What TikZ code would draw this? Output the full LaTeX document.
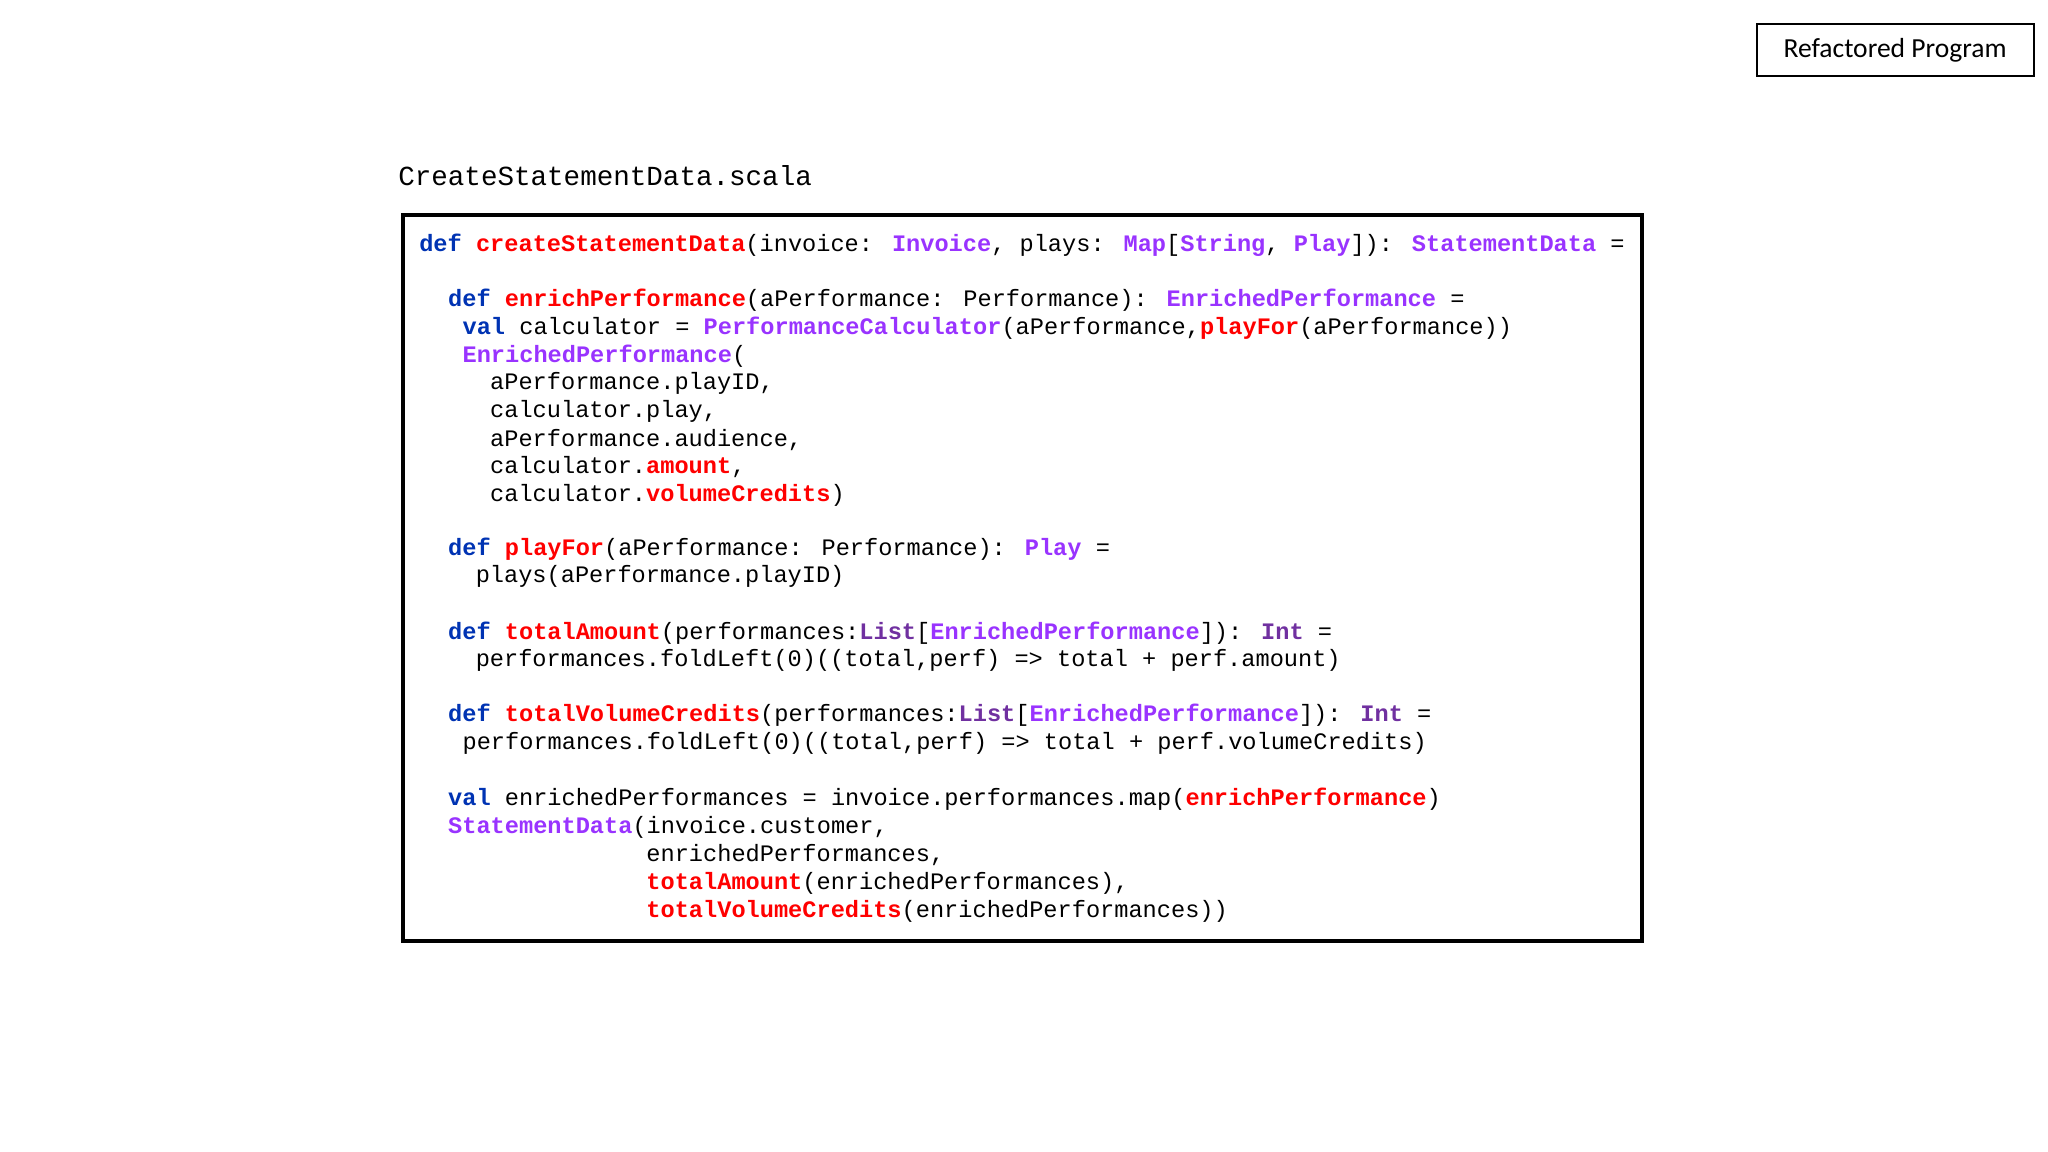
\documentclass[tikz,border=0pt]{standalone}
\usepackage{fontspec}
\setmainfont{Carlito}
\newfontfamily\codefont{Liberation Mono}
\definecolor{kwc}{HTML}{0033B3}
\definecolor{fnc}{HTML}{FF0000}
\definecolor{tyc}{HTML}{9933FF}
\definecolor{tydc}{HTML}{7030A0}
\newcommand{\kw}[1]{\textcolor{kwc}{\bfseries #1}}
\newcommand{\fn}[1]{\textcolor{fnc}{\bfseries #1}}
\newcommand{\ty}[1]{\textcolor{tyc}{\bfseries #1}}
\newcommand{\tyd}[1]{\textcolor{tydc}{\bfseries #1}}
\begin{document}
\begin{tikzpicture}[x=0.5pt,y=-0.5pt,
  code/.style={anchor=west,inner sep=0pt,font=\codefont\fontsize{9pt}{10pt}\selectfont},
  title/.style={anchor=west,inner sep=0pt,font=\codefont\fontsize{10.5pt}{12pt}\selectfont}]
\useasboundingbox (0,0) rectangle (1560,877.5);
\node[draw,line width=0.8pt,minimum width=211*0.5pt,minimum height=40*0.5pt,inner sep=0pt,font=\fontsize{10.5pt}{12pt}\selectfont] (lab) at (1443.5,38) {Refactored Program};
\node[title] (ttl) at (303,134) {CreateStatementData.scala};
\draw[line width=1.5pt] (307,164) rectangle (1251,717);
\node[code] (l1) at (319,187) {\kw{def} \fn{createStatementData}(invoice: \ty{Invoice}, plays: \ty{Map}[\ty{String}, \ty{Play}]): \ty{StatementData} =};
\node[code] (l2) at (341,229) {\kw{def} \fn{enrichPerformance}(aPerformance: Performance): \ty{EnrichedPerformance} =};
\node[code] (l3) at (352,250) {\kw{val} calculator = \ty{PerformanceCalculator}(aPerformance,\fn{playFor}(aPerformance))};
\node[code] (l4) at (352,271) {\ty{EnrichedPerformance}(};
\node[code] (l5) at (373,292) {aPerformance.playID,};
\node[code] (l6) at (373,313) {calculator.play,};
\node[code] (l7) at (373,335) {aPerformance.audience,};
\node[code] (l8) at (373,356) {calculator.\fn{amount},};
\node[code] (l9) at (373,377) {calculator.\fn{volumeCredits})};
\node[code] (l10) at (341,418) {\kw{def} \fn{playFor}(aPerformance: Performance): \ty{Play} =};
\node[code] (l11) at (362,439) {plays(aPerformance.playID)};
\node[code] (l12) at (341,482) {\kw{def} \fn{totalAmount}(performances:\tyd{List}[\ty{EnrichedPerformance}]): \tyd{Int} =};
\node[code] (l13) at (362,503) {performances.foldLeft(0)((total,perf) => total + perf.amount)};
\node[code] (l14) at (341,545) {\kw{def} \fn{totalVolumeCredits}(performances:\tyd{List}[\ty{EnrichedPerformance}]): \tyd{Int} =};
\node[code] (l15) at (352,566) {performances.foldLeft(0)((total,perf) => total + perf.volumeCredits)};
\node[code] (l16) at (341,609) {\kw{val} enrichedPerformances = invoice.performances.map(\fn{enrichPerformance})};
\node[code] (l17) at (341,630) {\ty{StatementData}(invoice.customer,};
\node[code] (l18) at (492,651) {enrichedPerformances,};
\node[code] (l19) at (492,673) {\fn{totalAmount}(enrichedPerformances),};
\node[code] (l20) at (492,694) {\fn{totalVolumeCredits}(enrichedPerformances))};
\end{tikzpicture}
\end{document}
